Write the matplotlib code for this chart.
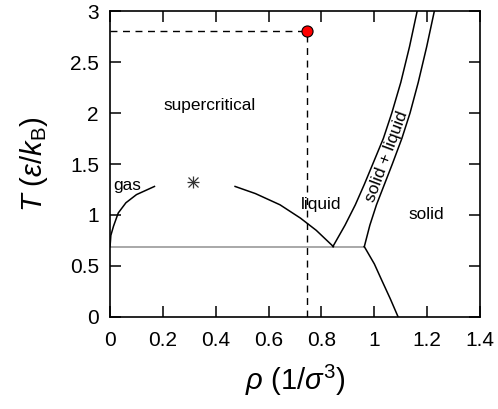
import matplotlib
matplotlib.use('Agg')
import matplotlib.pyplot as plt

plt.rcParams['font.family'] = ['Liberation Sans', 'DejaVu Sans']
plt.rcParams['mathtext.fontset'] = 'custom'
plt.rcParams['mathtext.rm'] = 'Liberation Sans'
plt.rcParams['mathtext.it'] = 'Liberation Sans:italic'

# phase boundaries (rho, T)
gas_rho = [0.0, 0.003, 0.013, 0.031, 0.06, 0.1, 0.168]
gas_T = [0.69, 0.80, 0.89, 1.02, 1.12, 1.20, 1.28]

liq_rho = [0.473, 0.55, 0.643, 0.72, 0.78, 0.845]
liq_T = [1.28, 1.21, 1.10, 0.97, 0.85, 0.69]

freeze_rho = [0.843, 0.889, 0.928, 0.962, 0.994, 1.034, 1.066, 1.100, 1.133, 1.162]
freeze_T = [0.69, 0.90, 1.10, 1.30, 1.50, 1.75, 2.00, 2.30, 2.65, 3.0]

melt_rho = [0.962, 0.983, 1.008, 1.038, 1.068, 1.104, 1.135, 1.166, 1.198, 1.227]
melt_T = [0.69, 0.90, 1.10, 1.30, 1.50, 1.75, 2.00, 2.30, 2.65, 3.0]

subl_rho = [0.962, 1.0, 1.028, 1.06, 1.09]
subl_T = [0.69, 0.52, 0.36, 0.18, 0.0]

triple_T = 0.69
triple_rho = [0.0, 0.962]
crit_rho, crit_T = 0.315, 1.32
state_rho, state_T = 0.745, 2.8

fig = plt.figure(figsize=(4.98, 4.09), dpi=100)
ax = fig.add_axes([0.221, 0.225, 0.743, 0.748])

ax.plot(triple_rho, [triple_T, triple_T], color='#999999', lw=1.2)
for xs, ys in [(gas_rho, gas_T), (liq_rho, liq_T), (freeze_rho, freeze_T),
               (melt_rho, melt_T), (subl_rho, subl_T)]:
    ax.plot(xs, ys, color='black', lw=1.1)

ax.plot([crit_rho], [crit_T], marker='+', ms=9, mew=0.9, color='#333333')
ax.plot([crit_rho], [crit_T], marker='x', ms=7, mew=0.9, color='#333333')

ax.plot([0, state_rho], [state_T, state_T], 'k--', lw=1.0, dashes=(5, 4))
ax.plot([state_rho, state_rho], [0, state_T], 'k--', lw=1.0, dashes=(5, 4))
ax.plot([state_rho], [state_T], 'o', ms=8, mfc='red', mec='black', mew=0.8)

fs = 12.4
ax.text(0.375, 2.07, 'supercritical', fontsize=fs, ha='center', va='center')
ax.text(0.012, 1.29, 'gas', fontsize=fs, ha='left', va='center')
ax.text(0.80, 1.10, 'liquid', fontsize=fs, ha='center', va='center')
ax.text(1.195, 1.0, 'solid', fontsize=fs, ha='center', va='center')
ax.text(1.045, 1.57, 'solid + liquid', fontsize=fs, ha='center', va='center',
        rotation=69.5)

ax.set_xlim(0, 1.4)
ax.set_ylim(0, 3)
ax.set_xticks([0, 0.2, 0.4, 0.6, 0.8, 1.0, 1.2, 1.4])
ax.set_xticklabels(['0', '0.2', '0.4', '0.6', '0.8', '1', '1.2', '1.4'])
ax.set_yticks([0, 0.5, 1, 1.5, 2, 2.5, 3])
ax.set_yticklabels(['0', '0.5', '1', '1.5', '2', '2.5', '3'])
ax.tick_params(direction='in', length=8, width=1.1, top=True, right=True,
               labelsize=15)
ax.tick_params(axis='x', pad=10)
ax.tick_params(axis='y', pad=8)
for s in ax.spines.values():
    s.set_linewidth(1.2)

ax.set_xlabel(r'$\rho$ (1/$\sigma^3$)', fontsize=21, labelpad=9)
ax.set_ylabel(r'$T$ ($\varepsilon/k_\mathrm{B}$)', fontsize=21, labelpad=14)

fig.savefig('out.png', dpi=100)
